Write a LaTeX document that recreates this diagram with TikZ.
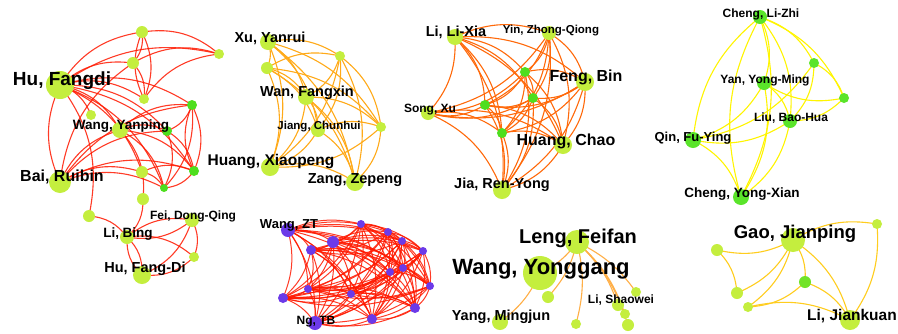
\documentclass[tikz,border=0pt]{standalone}
\usepackage{fontspec}
\setmainfont{Liberation Sans}
\pgfdeclarelayer{bg}
\pgfdeclarelayer{edges}
\pgfsetlayers{bg,edges,main}
\definecolor{lgr}{RGB}{196,238,62}
\definecolor{dgr}{RGB}{78,222,30}
\definecolor{cfg}{RGB}{90,228,42}
\definecolor{pur}{RGB}{108,58,232}
\definecolor{eRed}{RGB}{255,25,0}
\definecolor{eOr}{RGB}{255,170,25}
\definecolor{eOrr}{RGB}{255,105,10}
\definecolor{eYel}{RGB}{255,245,0}
\definecolor{eGold}{RGB}{255,205,30}
\definecolor{eLor}{RGB}{255,175,70}
\newcommand\mycliq[2]{%
  \foreach \a [count=\i] in {#2} {%
    \foreach \b [count=\j] in {#2} {%
      \ifnum\j>\i \draw[#1] (\a.center) to (\b.center);\fi
    }%
  }%
}
\begin{document}
\begin{tikzpicture}[x=1pt,y=-1pt,
  nd/.style={circle,inner sep=0pt,draw=none,fill=lgr,minimum size=#1},
  dk/.style={nd=#1,fill=dgr},
  gn/.style={nd=#1,fill=cfg},
  pu/.style={nd=#1,fill=pur},
  fs/.style={inner sep=0pt,anchor=base,text=black,font=\bfseries\fontsize{#1}{#1}\selectfont},
  re/.style={draw=eRed,line width=1.1pt,opacity=0.85,bend left=24},
  oe/.style={draw=eOr,line width=1.1pt,bend left=22},
  ore/.style={draw=eOrr,line width=1.1pt,bend left=22},
  ye/.style={draw=eYel,line width=1.1pt,bend left=22},
  ge/.style={draw=eGold,line width=1.1pt,bend left=20},
  le/.style={draw=eLor,line width=1.1pt,bend left=14},
  pe/.style={draw=eRed,line width=1pt,opacity=0.85,bend left=18}]
\begin{pgfonlayer}{bg}
\fill[white] (0,0) rectangle (898,333);
\end{pgfonlayer}
\useasboundingbox (0,0) rectangle (898,333);

% ---------- cluster 1 ----------
\node[nd=28pt] (hf) at (60,85) {};
\node[nd=12pt] (c1a) at (142,32) {};
\node[nd=10pt] (c1b) at (219,54) {};
\node[nd=12pt] (c1c) at (133,63) {};
\node[nd=10pt] (c1d) at (144,99) {};
\node[nd=10pt] (c1e) at (91,115) {};
\node[nd=16pt] (wy) at (120,130) {};
\node[dk=10pt] (c1f) at (192,105) {};
\node[dk=10pt] (c1g) at (167,131) {};
\node[dk=10pt] (c1h) at (194,171) {};
\node[nd=12pt] (c1i) at (142,172) {};
\node[dk=8pt] (c1j) at (164,188) {};
\node[nd=22pt] (br) at (60,182) {};
\node[nd=12pt] (c1k) at (143,199) {};
\node[nd=12pt] (c1l) at (89,216) {};
\node[nd=14pt] (lb) at (127,237) {};
\node[nd=14pt] (fd) at (192,220) {};
\node[nd=10pt] (c1m) at (194,257) {};
\node[nd=18pt] (hfd) at (142,275) {};

% ---------- cluster 2 ----------
\node[nd=16pt] (xy) at (268,42) {};
\node[nd=12pt] (c2a) at (267,68) {};
\node[nd=10pt] (c2b) at (340,56) {};
\node[nd=16pt] (wf) at (306,97) {};
\node[nd=14pt] (jc) at (318,130) {};
\node[nd=10pt] (c2c) at (381,127) {};
\node[nd=18pt] (hx) at (270,167) {};
\node[nd=18pt] (zz) at (355,182) {};

% ---------- cluster 3 ----------
\node[nd=16pt] (ll) at (455,37) {};
\node[nd=14pt] (yz) at (549,33) {};
\node[dk=10pt] (c3a) at (525,72) {};
\node[nd=18pt] (fb) at (585,82) {};
\node[dk=10pt] (c3b) at (533,98) {};
\node[dk=10pt] (c3c) at (485,105) {};
\node[nd=14pt] (sx) at (428,113) {};
\node[dk=10pt] (c3d) at (502,133) {};
\node[nd=18pt] (hc) at (563,145) {};
\node[nd=18pt] (jr) at (502,190) {};

% ---------- cluster 4 ----------
\node[gn=14pt] (clz) at (760,17) {};
\node[gn=10pt] (c4a) at (814,63) {};
\node[gn=14pt] (yym) at (764,83) {};
\node[gn=10pt] (c4b) at (844,98) {};
\node[gn=14pt] (lbh) at (790,121) {};
\node[gn=16pt] (qfy) at (693,140) {};
\node[gn=16pt] (cyx) at (741,197) {};

% ---------- cluster 5 ----------
\node[pu=14pt] (wzt) at (288,230) {};
\node[pu=8pt] (p1) at (361,224) {};
\node[pu=12pt] (p2) at (333,242) {};
\node[pu=8pt] (p3) at (388,232) {};
\node[pu=8pt] (p4) at (402,241) {};
\node[pu=10pt] (p5) at (311,250) {};
\node[pu=8pt] (p6) at (423,251) {};
\node[pu=8pt] (p7) at (403,268) {};
\node[pu=8pt] (p8) at (390,272) {};
\node[pu=8pt] (p9) at (430,286) {};
\node[pu=8pt] (p10) at (308,289) {};
\node[pu=8pt] (p11) at (351,294) {};
\node[pu=10pt] (p12) at (283,298) {};
\node[pu=10pt] (p13) at (415,308) {};
\node[pu=10pt] (p14) at (372,319) {};
\node[pu=14pt] (ntb) at (315,323) {};

% ---------- cluster 6 ----------
\node[nd=24pt] (lf) at (577,242) {};
\node[nd=34pt] (wyg) at (540,273) {};
\node[nd=12pt] (c6a) at (548,297) {};
\node[nd=16pt] (ym) at (500,322) {};
\node[nd=10pt] (c6b) at (576,324) {};
\node[nd=12pt] (ls) at (618,305) {};
\node[nd=10pt] (c6c) at (636,292) {};
\node[nd=10pt] (c6d) at (625,314) {};
\node[nd=12pt] (c6e) at (628,325) {};

% ---------- cluster 7 ----------
\node[nd=24pt] (gj) at (793,240) {};
\node[nd=10pt] (c7a) at (877,224) {};
\node[nd=12pt] (c7b) at (717,250) {};
\node[nd=12pt,fill=dgr!70!lgr] (c7c) at (805,282) {};
\node[nd=12pt] (c7d) at (737,293) {};
\node[nd=10pt] (c7e) at (748,307) {};
\node[nd=20pt] (ljk) at (850,320) {};

% ---------- edges ----------
\begin{pgfonlayer}{edges}
\foreach \a/\b in {hf/c1a,hf/c1b,hf/c1c,hf/c1d,hf/c1e,hf/wy,hf/c1f,hf/c1g,hf/c1h,hf/c1j,br/hf,hf/c1l,hf/c1i,
  c1a/c1b,c1a/c1d,c1d/c1a,c1c/c1b,c1c/c1d,c1d/c1b,c1a/c1c,
  br/wy,br/c1f,br/c1g,br/c1h,br/c1j,br/c1i,br/c1c,
  wy/c1f,wy/c1g,wy/c1h,wy/c1j,wy/c1k,
  c1f/c1g,c1f/c1h,c1h/c1f,c1f/c1j,c1g/c1h,c1g/c1j,c1h/c1j,c1i/c1j,c1i/c1h,
  c1k/lb,c1l/lb,lb/fd,fd/lb,lb/c1m,lb/hfd,hfd/lb,fd/c1m,fd/hfd,c1m/hfd}
  \draw[re] (\a.center) to (\b.center);
\mycliq{oe}{xy,c2a,c2b,wf,jc,c2c,hx,zz}
\mycliq{ore}{ll,yz,c3a,fb,c3b,c3c,sx,c3d,hc,jr}
\foreach \a/\b in {qfy/clz,clz/cyx,cyx/clz,clz/yym,clz/lbh,clz/c4a,clz/c4b,c4a/qfy,c4a/lbh,c4a/c4b,
  c4b/yym,c4b/lbh,yym/qfy,yym/cyx,yym/lbh,lbh/qfy,lbh/cyx,qfy/cyx}
  \draw[ye] (\a.center) to (\b.center);
\mycliq{pe}{wzt,p1,p2,p3,p4,p5,p6,p7,p8,p9,p10,p11,p12,p13,p14,ntb}
\foreach \a/\b in {lf/wyg,wyg/ym,lf/c6a,lf/c6b,lf/ls,lf/c6c,lf/c6d,lf/c6e}
  \draw[le] (\a.center) to (\b.center);
\foreach \a/\b in {gj/c7a,c7a/ljk,gj/c7b,c7b/c7d,gj/c7d,gj/c7e,gj/c7c,gj/ljk,c7c/c7e,c7c/ljk,c7e/ljk}
  \draw[ge] (\a.center) to (\b.center);
\end{pgfonlayer}

% ---------- labels ----------
\node[fs=19] (lhf) at (62,85) {Hu, Fangdi};
\node[fs=16] (lbr) at (62,181) {Bai, Ruibin};
\node[fs=13.5] (lwy) at (121,129) {Wang, Yanping};
\node[fs=13.5] (llb) at (128,237) {Li, Bing};
\node[fs=12] (lfd) at (193,219) {Fei, Dong-Qing};
\node[fs=14.5] (lhfd) at (145,272) {Hu, Fang-Di};
\node[fs=14.5] (lxy) at (270,42) {Xu, Yanrui};
\node[fs=14.5] (lwf) at (307,96) {Wan, Fangxin};
\node[fs=11.5] (ljc) at (319,129) {Jiang, Chunhui};
\node[fs=15.5] (lhx) at (271,165) {Huang, Xiaopeng};
\node[fs=14.5] (lzz) at (355,183) {Zang, Zepeng};
\node[fs=14.5] (lll) at (456,36) {Li, Li-Xia};
\node[fs=11.5] (lyz) at (551,33) {Yin, Zhong-Qiong};
\node[fs=16] (lfb) at (586,81) {Feng, Bin};
\node[fs=12] (lsx) at (430,112) {Song, Xu};
\node[fs=16] (lhc) at (566,145) {Huang, Chao};
\node[fs=14.5] (ljr) at (502,188) {Jia, Ren-Yong};
\node[fs=12] (lclz) at (761,17) {Cheng, Li-Zhi};
\node[fs=12] (lyym) at (765,83) {Yan, Yong-Ming};
\node[fs=12] (llbh) at (791,121) {Liu, Bao-Hua};
\node[fs=13] (lqfy) at (693,141) {Qin, Fu-Ying};
\node[fs=13.5] (lcyx) at (742,197) {Cheng, Yong-Xian};
\node[fs=13] (lwzt) at (289,228) {Wang, ZT};
\node[fs=12] (lntb) at (316,324) {Ng, TB};
\node[fs=20] (llf) at (578,243) {Leng, Feifan};
\node[fs=22] (lwyg) at (541,274) {Wang, Yonggang};
\node[fs=14.5] (lym) at (501,320) {Yang, Mingjun};
\node[fs=12] (lls) at (621,303) {Li, Shaowei};
\node[fs=18.5] (lgj) at (795,238) {Gao, Jianping};
\node[fs=15.5] (lljk) at (852,320) {Li, Jiankuan};
\end{tikzpicture}
\end{document}
